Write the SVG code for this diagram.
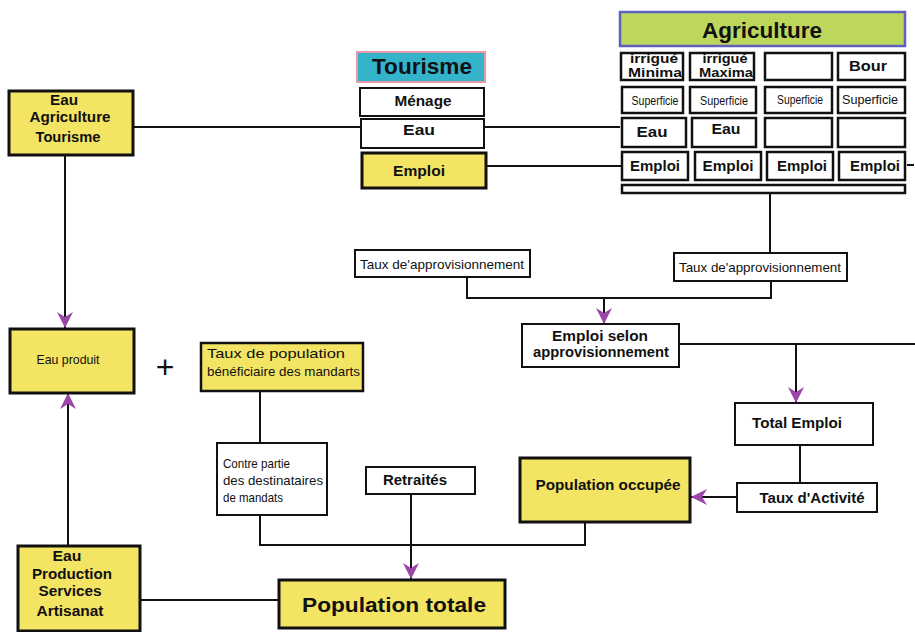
<svg xmlns="http://www.w3.org/2000/svg" width="915" height="632" viewBox="0 0 915 632">
<style>
text{font-family:"Liberation Sans",Arial,sans-serif;fill:#111;}
.b{font-weight:bold;font-size:14px;}
.n{font-family:"Liberation Sans",Arial,sans-serif;font-size:13px;}
.box{fill:#fff;stroke:#111;stroke-width:2;}
.ybox{fill:#f3e463;stroke:#111;stroke-width:3;}
.cell{fill:#fff;stroke:#111;stroke-width:2.5;}
.c{fill:none;stroke:#111;stroke-width:2;}
</style>
<defs>
<marker id="ah" markerUnits="userSpaceOnUse" markerWidth="18" markerHeight="18" refX="16" refY="8" orient="auto">
<path d="M0,0 L16,8 L0,16 L5,8 z" fill="#9b45a8"/>
</marker>
</defs>
<rect width="915" height="632" fill="#fff"/>

<g id="connectors">
<path class="c" d="M133,127 H361" stroke-width="1.5"/>
<path class="c" d="M484,127 H620"/>
<path class="c" d="M486,166 H621" stroke-width="2.5"/>
<path class="c" d="M907,165 H914" stroke-width="1.5"/>
<path class="c" d="M770,193 V253"/>
<path class="c" d="M467,277 V298 H771 V281"/>
<path class="c" d="M604,298 V324" marker-end="url(#ah)"/>
<path class="c" d="M680,344 H915"/>
<path class="c" d="M796,344 V403" marker-end="url(#ah)"/>
<path class="c" d="M800,445 V483"/>
<path class="c" d="M737,497 H691" marker-end="url(#ah)"/>
<path class="c" d="M65,155 V328" marker-end="url(#ah)"/>
<path class="c" d="M68,545 V393" marker-end="url(#ah)"/>
<path class="c" d="M260,391 V443"/>
<path class="c" d="M260,515 V545 H585 V522"/>
<path class="c" d="M411,494 V579" marker-end="url(#ah)"/>
<path class="c" d="M140,600 H278"/>
</g>

<g id="agriculture">
<rect x="620" y="12" width="285" height="34" fill="#bdd65c" stroke="#6060c0" stroke-width="2.5"/>
<text x="762" y="38" text-anchor="middle" font-weight="bold" font-size="22" textLength="120" lengthAdjust="spacingAndGlyphs">Agriculture</text>
<rect class="cell" x="621" y="53" width="62" height="27"/>
<rect class="cell" x="690" y="53" width="64" height="27"/>
<rect class="cell" x="765" y="53" width="67" height="27"/>
<rect class="cell" x="838" y="53" width="67" height="27"/>
<text x="654" y="63" text-anchor="middle" font-weight="bold" font-size="12.5" textLength="48" lengthAdjust="spacingAndGlyphs">irrigué</text>
<text x="655" y="77" text-anchor="middle" font-weight="bold" font-size="12.5" textLength="54" lengthAdjust="spacingAndGlyphs">Minima</text>
<text x="725" y="63" text-anchor="middle" font-weight="bold" font-size="12.5" textLength="45" lengthAdjust="spacingAndGlyphs">irrigué</text>
<text x="726" y="77" text-anchor="middle" font-weight="bold" font-size="12.5" textLength="54" lengthAdjust="spacingAndGlyphs">Maxima</text>
<text x="868" y="71" text-anchor="middle" class="b" textLength="38" lengthAdjust="spacingAndGlyphs">Bour</text>
<rect class="cell" x="622" y="87" width="61" height="26"/>
<rect class="cell" x="690" y="87" width="66" height="26"/>
<rect class="cell" x="765" y="87" width="67" height="26"/>
<rect class="cell" x="838" y="87" width="67" height="26"/>
<text x="655" y="105" text-anchor="middle" class="n" font-size="12" textLength="47" lengthAdjust="spacingAndGlyphs">Superficie</text>
<text x="724" y="105" text-anchor="middle" class="n" font-size="12" textLength="48" lengthAdjust="spacingAndGlyphs">Superficie</text>
<text x="800" y="104" text-anchor="middle" class="n" font-size="12" textLength="46" lengthAdjust="spacingAndGlyphs">Superficie</text>
<text x="870" y="104" text-anchor="middle" class="n" font-size="12.5" textLength="56" lengthAdjust="spacingAndGlyphs">Superficie</text>
<rect class="cell" x="622" y="118" width="64" height="29"/>
<rect class="cell" x="692" y="118" width="64" height="29"/>
<rect class="cell" x="765" y="118" width="67" height="29"/>
<rect class="cell" x="838" y="118" width="67" height="29"/>
<text x="652" y="137" text-anchor="middle" class="b" textLength="31" lengthAdjust="spacingAndGlyphs">Eau</text>
<text x="726" y="134" text-anchor="middle" class="b" textLength="29" lengthAdjust="spacingAndGlyphs">Eau</text>
<rect class="cell" x="622" y="152" width="66" height="28"/>
<rect class="cell" x="695" y="152" width="66" height="28"/>
<rect class="cell" x="767" y="152" width="66" height="28"/>
<rect class="cell" x="839" y="152" width="66" height="28"/>
<text x="655" y="171" text-anchor="middle" class="b" textLength="50" lengthAdjust="spacingAndGlyphs">Emploi</text>
<text x="728" y="171" text-anchor="middle" class="b" textLength="51" lengthAdjust="spacingAndGlyphs">Emploi</text>
<text x="802" y="171" text-anchor="middle" class="b" textLength="50" lengthAdjust="spacingAndGlyphs">Emploi</text>
<text x="875" y="171" text-anchor="middle" class="b" textLength="50" lengthAdjust="spacingAndGlyphs">Emploi</text>
<rect class="cell" x="622" y="185" width="283" height="8" stroke-width="2"/>
</g>

<g id="tourisme">
<rect x="357" y="52" width="128" height="30" fill="#33b4cb" stroke="#e898a8" stroke-width="2"/>
<text x="422" y="74" text-anchor="middle" font-weight="bold" font-size="22" fill="#0c2030" textLength="100" lengthAdjust="spacingAndGlyphs">Tourisme</text>
<rect class="box" x="360" y="88" width="124" height="28"/>
<text x="423" y="106" text-anchor="middle" class="b" textLength="57" lengthAdjust="spacingAndGlyphs">Ménage</text>
<rect class="box" x="361" y="119" width="123" height="29"/>
<text x="419" y="135" text-anchor="middle" class="b" textLength="32" lengthAdjust="spacingAndGlyphs">Eau</text>
<rect class="ybox" x="362" y="153" width="124" height="35"/>
<text x="419" y="176" text-anchor="middle" class="b" textLength="52" lengthAdjust="spacingAndGlyphs">Emploi</text>
</g>

<g id="eau-agri-tourisme">
<rect class="ybox" x="9" y="91" width="124" height="64"/>
<text x="64" y="105" text-anchor="middle" class="b" textLength="28" lengthAdjust="spacingAndGlyphs">Eau</text>
<text x="70" y="122" text-anchor="middle" class="b" textLength="81" lengthAdjust="spacingAndGlyphs">Agriculture</text>
<text x="68" y="142" text-anchor="middle" class="b" textLength="65" lengthAdjust="spacingAndGlyphs">Tourisme</text>
</g>

<g id="taux-appro-1">
<rect class="box" x="355" y="250" width="175" height="27"/>
<text x="442" y="269" text-anchor="middle" class="n" textLength="164" lengthAdjust="spacingAndGlyphs">Taux de'approvisionnement</text>
</g>
<g id="taux-appro-2">
<rect class="box" x="674" y="253" width="173" height="28"/>
<text x="760" y="272" text-anchor="middle" class="n" textLength="162" lengthAdjust="spacingAndGlyphs">Taux de'approvisionnement</text>
</g>

<g id="emploi-selon">
<rect class="box" x="522" y="324" width="157" height="43"/>
<text x="600" y="341" text-anchor="middle" class="b" textLength="96" lengthAdjust="spacingAndGlyphs">Emploi selon</text>
<text x="601" y="357" text-anchor="middle" class="b" textLength="136" lengthAdjust="spacingAndGlyphs">approvisionnement</text>
</g>

<g id="eau-produit">
<rect class="ybox" x="10" y="329" width="124" height="64"/>
<text x="68" y="364" text-anchor="middle" class="n" textLength="63" lengthAdjust="spacingAndGlyphs">Eau produit</text>
</g>

<g id="plus">
<text x="165" y="378" text-anchor="middle" font-size="32" font-weight="normal">+</text>
</g>

<g id="taux-population">
<rect x="201" y="343" width="162" height="48" fill="#f3e463" stroke="#111" stroke-width="2.5"/>
<text x="207" y="358" class="n" textLength="138" lengthAdjust="spacingAndGlyphs">Taux de population</text>
<text x="207" y="376" class="n" textLength="153" lengthAdjust="spacingAndGlyphs">bénéficiaire des mandarts</text>
</g>

<g id="contre-partie">
<rect class="box" x="217" y="443" width="110" height="72"/>
<text x="223" y="468" class="n" textLength="67" lengthAdjust="spacingAndGlyphs">Contre partie</text>
<text x="223" y="485" class="n" textLength="100" lengthAdjust="spacingAndGlyphs">des destinataires</text>
<text x="223" y="502" class="n" textLength="60" lengthAdjust="spacingAndGlyphs">de mandats</text>
</g>

<g id="retraites">
<rect class="box" x="366" y="467" width="109" height="27"/>
<text x="415" y="485" text-anchor="middle" class="b" textLength="64" lengthAdjust="spacingAndGlyphs">Retraités</text>
</g>

<g id="population-occupee">
<rect class="ybox" x="520" y="458" width="170" height="64"/>
<text x="608" y="490" text-anchor="middle" class="b" textLength="145" lengthAdjust="spacingAndGlyphs">Population occupée</text>
</g>

<g id="total-emploi">
<rect class="box" x="735" y="403" width="138" height="42"/>
<text x="797" y="428" text-anchor="middle" class="b" textLength="90" lengthAdjust="spacingAndGlyphs">Total Emploi</text>
</g>

<g id="taux-activite">
<rect class="box" x="737" y="483" width="140" height="29"/>
<text x="812" y="503" text-anchor="middle" class="b" textLength="105" lengthAdjust="spacingAndGlyphs">Taux d'Activité</text>
</g>

<g id="eau-production">
<rect class="ybox" x="18" y="546" width="122" height="85"/>
<text x="67" y="561" text-anchor="middle" class="b" textLength="29" lengthAdjust="spacingAndGlyphs">Eau</text>
<text x="72" y="579" text-anchor="middle" class="b" textLength="80" lengthAdjust="spacingAndGlyphs">Production</text>
<text x="70" y="596" text-anchor="middle" class="b" textLength="63" lengthAdjust="spacingAndGlyphs">Services</text>
<text x="70" y="616" text-anchor="middle" class="b" textLength="67" lengthAdjust="spacingAndGlyphs">Artisanat</text>
</g>

<g id="population-totale">
<rect class="ybox" x="279" y="580" width="226" height="48"/>
<text x="394" y="612" text-anchor="middle" font-weight="bold" font-size="21" textLength="184" lengthAdjust="spacingAndGlyphs">Population totale</text>
</g>
</svg>
